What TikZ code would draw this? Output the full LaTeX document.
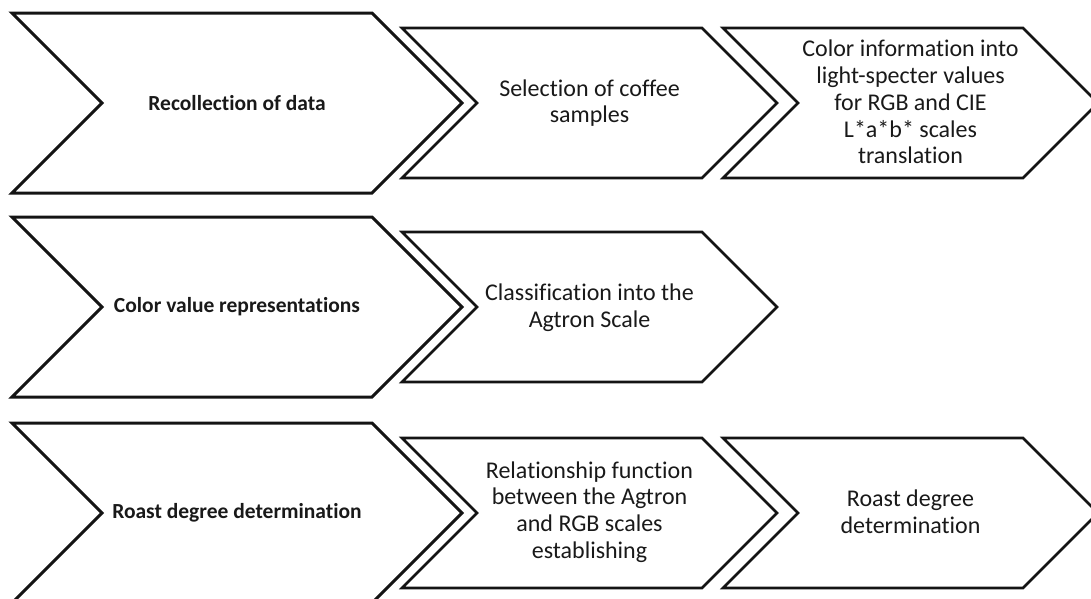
\documentclass[tikz,border=0pt]{standalone}
\usepackage{fontspec}
\setmainfont{Carlito}[Ligatures=NoCommon]

\tikzset{
  bigchev/.style={draw=black!92, line width=3pt},
  smallchev/.style={draw=black!92, line width=2.6pt},
  headtext/.style={font=\fontsize{21.5}{26}\selectfont\bfseries, align=center, text=black!90},
  steptext/.style={font=\fontsize{24}{26.8}\selectfont, align=center, text=black!90},
}

\begin{document}
\begin{tikzpicture}[x=1pt,y=-1pt]
\useasboundingbox (0,0) rectangle (1091,598);
\def\bw{270}\def\bd{90}
\def\sw{225}\def\sd{75}

% row 1
\draw[bigchev] (12,13) -- +(\bd+\bw,0) -- +(\bw+2*\bd,\bd) -- +(\bd+\bw,2*\bd) -- +(0,2*\bd) -- +(\bd,\bd) -- cycle;
\node[headtext] (recol) at (12+\bd+\bw/2,103) {Recollection of data};
\draw[smallchev] (402,28) -- +(\sd+\sw,0) -- +(\sw+2*\sd,\sd) -- +(\sd+\sw,2*\sd) -- +(0,2*\sd) -- +(\sd,\sd) -- cycle;
\node[steptext] (select) at (402+\sd+\sw/2,103) {Selection of coffee\\samples};
\draw[smallchev] (723,28) -- +(\sd+\sw,0) -- +(\sw+2*\sd,\sd) -- +(\sd+\sw,2*\sd) -- +(0,2*\sd) -- +(\sd,\sd) -- cycle;
\node[steptext] (colinfo) at (723+\sd+\sw/2,102) {Color information into\\light-specter values\\for RGB and CIE\\L*a*b* scales\\translation};

% row 2
\draw[bigchev] (12,217) -- +(\bd+\bw,0) -- +(\bw+2*\bd,\bd) -- +(\bd+\bw,2*\bd) -- +(0,2*\bd) -- +(\bd,\bd) -- cycle;
\node[headtext] (colval) at (12+\bd+\bw/2,307) {Color value representations};
\draw[smallchev] (402,232) -- +(\sd+\sw,0) -- +(\sw+2*\sd,\sd) -- +(\sd+\sw,2*\sd) -- +(0,2*\sd) -- +(\sd,\sd) -- cycle;
\node[steptext] (classif) at (402+\sd+\sw/2,308) {Classification into the\\Agtron Scale};

% row 3
\draw[bigchev] (12,423) -- +(\bd+\bw,0) -- +(\bw+2*\bd,\bd) -- +(\bd+\bw,2*\bd) -- +(0,2*\bd) -- +(\bd,\bd) -- cycle;
\node[headtext] (roast) at (12+\bd+\bw/2,513) {Roast degree determination};
\draw[smallchev] (402,438) -- +(\sd+\sw,0) -- +(\sw+2*\sd,\sd) -- +(\sd+\sw,2*\sd) -- +(0,2*\sd) -- +(\sd,\sd) -- cycle;
\node[steptext] (relfun) at (402+\sd+\sw/2,512) {Relationship function\\between the Agtron\\and RGB scales\\establishing};
\draw[smallchev] (723,438) -- +(\sd+\sw,0) -- +(\sw+2*\sd,\sd) -- +(\sd+\sw,2*\sd) -- +(0,2*\sd) -- +(\sd,\sd) -- cycle;
\node[steptext] (rdeg) at (723+\sd+\sw/2,512) {Roast degree\\determination};
\end{tikzpicture}
\end{document}
